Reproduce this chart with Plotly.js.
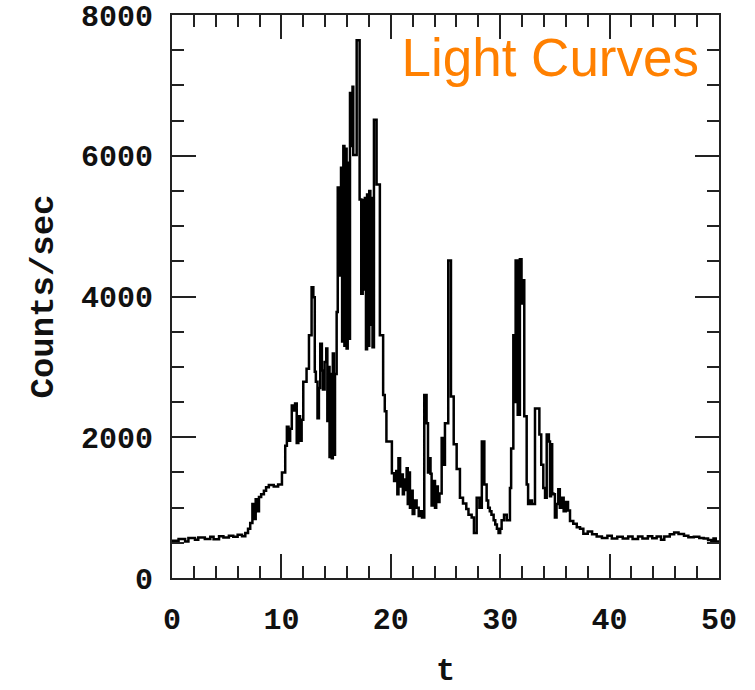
<!DOCTYPE html>
<html>
<head>
<meta charset="utf-8">
<script src="https://cdn.plot.ly/plotly-3.0.1.min.js"></script>
<style>
  html, body { margin: 0; padding: 0; background: #ffffff; }
  #chart { width: 755px; height: 690px; }
</style>
</head>
<body>
<div id="chart"></div>
<script>
// Burst light curve: count rate (counts/sec) against time t (s).
// Each segment holds bin start times and the rate in that bin.

// quiet background and slow rise, 0 - 11.5 s
const tRise = [0, 0.6, 1.2, 1.5, 2.1, 2.4, 3.0, 3.5, 3.8, 4.3, 4.7, 5.2, 5.6, 6.0, 6.4, 6.7,
  6.95, 7.15, 7.35, 7.5, 7.65, 7.8, 7.95, 8.15, 8.4, 8.6, 8.85, 9.3, 9.7, 10.05, 10.35,
  10.5, 10.65, 10.8, 10.95, 11.1, 11.25, 11.4];
const cRise = [530, 555, 520, 570, 545, 575, 555, 585, 550, 595, 575, 600, 585, 615, 595, 640,
  700, 780, 1050, 840, 1120, 950, 1150, 1190, 1240, 1290, 1320, 1300, 1330, 1500, 1880,
  2150, 1950, 2120, 2450, 2380, 2480, 1920];

// main emission episode, 11.5 - 20.3 s
const tMain = [11.55, 11.7, 11.85, 12.0, 12.3, 12.52, 12.76, 12.92, 13.05, 13.15, 13.3, 13.43,
  13.55, 13.7, 13.8, 13.95, 14.1, 14.2, 14.3, 14.4, 14.5, 14.6, 14.7, 14.8, 14.9, 15.05,
  15.15, 15.25, 15.35, 15.45, 15.55, 15.66, 15.76, 15.86, 15.96, 16.06, 16.16, 16.27, 16.4,
  16.5, 16.57, 16.88, 17.15, 17.3, 17.43, 17.53, 17.63, 17.73, 17.83, 17.93, 18.03, 18.13,
  18.23, 18.33, 18.46, 18.7, 19.0, 19.1, 19.3, 19.45, 19.6, 20.1, 20.3];
const cMain = [2300, 1950, 2250, 2790, 2975, 3450, 4130, 3990, 2930, 2790, 2270, 2700,
  3330, 2950, 2680, 3070, 3260, 2230, 3000, 1720, 2900, 1700, 3190, 1750, 2900, 3780,
  5550, 4300, 5100, 5830, 3360, 6140, 3300, 6100, 3260, 5900, 3400, 6890, 6140,
  6980, 6010, 7640, 5380, 4040, 5370, 4100, 5400, 3250, 5450, 3300, 5500, 3600,
  5400, 3280, 6510, 5590, 3450, 3450, 2600, 2370, 1940, 1490, 1380];

// intermediate pulses, 20.5 - 31.1 s
const tMid = [20.5, 20.6, 20.7, 20.85, 21.0, 21.1, 21.2, 21.3, 21.45, 21.55, 21.65, 21.75,
  21.9, 22.0, 22.15, 22.36, 22.55, 22.7, 22.85, 23.06, 23.27, 23.4, 23.52, 23.63, 23.73,
  23.85, 24.04, 24.15, 24.3, 24.45, 24.65, 24.8, 24.95, 25.25, 25.5, 25.75, 26.02, 26.32,
  26.6, 26.9, 27.1, 27.39, 27.6, 27.85, 28.1, 28.32, 28.55, 28.76, 28.9, 29.05, 29.2,
  29.4, 29.55, 29.7, 29.85, 30.0, 30.13, 30.35, 30.6, 30.89, 31.0];
const cMid = [1520, 1190, 1700, 1300, 1470, 1190, 1400, 1250, 1560, 1050, 1500, 1000,
  1240, 910, 1100, 1000, 880, 950, 860, 2600, 2200, 1500, 1700, 1480, 1030,
  1380, 1000, 1300, 1080, 1200, 1990, 1610, 2200, 4510, 2580, 1900, 1550, 1140,
  1060, 980, 900, 860, 640, 1140, 1000, 1940, 1330, 1100, 1000, 950, 900,
  820, 760, 700, 640, 700, 820, 900, 820, 1280, 1840];

// last pulses and decay to background, 31.2 - 50 s
const tLate = [31.2, 31.3, 31.41, 31.6, 31.8, 31.95, 32.05, 32.2, 32.42, 32.55, 32.72, 32.9,
  33.18, 33.58, 33.75, 33.94, 34.1, 34.25, 34.45, 34.55, 34.65, 34.75, 34.86, 35.0, 35.15,
  35.31, 35.45, 35.62, 35.8, 36.0, 36.2, 36.38, 36.68, 37.0, 37.3, 37.6, 38.0, 38.4, 38.82,
  39.3, 39.8, 40.2, 40.7, 41.2, 41.7, 42.1, 42.6, 43.0, 43.5, 43.9, 44.3, 44.7, 45.0,
  45.5, 45.9, 46.3, 46.8, 47.2, 47.7, 48.2, 48.6, 49.0, 49.3, 49.5, 49.7, 50.0];
const cLate = [3450, 2500, 4510, 2320, 4530, 3900, 4230, 2300, 1330, 1050, 1100, 1050,
  2410, 2040, 1610, 1280, 1140, 2040, 1940, 1160, 1900, 1200, 1190, 860, 1050,
  1260, 1000, 1140, 950, 1080, 960, 810, 770, 720, 700, 630, 660, 620, 590,
  570, 600, 560, 585, 560, 590, 555, 590, 560, 595, 565, 590, 545, 590,
  620, 645, 625, 600, 580, 585, 570, 560, 540, 500, 560, 520, 520];

const tAll = [].concat(tRise, tMain, tMid, tLate);
const cAll = [].concat(cRise, cMain, cMid, cLate);

const axisColor = '#222222';
const monoFamily = 'Liberation Mono, Courier New, monospace';
const monoFont = { family: monoFamily, size: 30, color: '#111111', weight: 'bold' };

const trace = {
  x: tAll,
  y: cAll,
  type: 'scatter',
  mode: 'lines',
  line: { color: '#000000', width: 2.5, shape: 'hv' },
  hoverinfo: 'x+y'
};

const layout = {
  width: 755,
  height: 690,
  margin: { l: 172, r: 36, t: 15, b: 112, pad: 0 },
  paper_bgcolor: '#ffffff',
  plot_bgcolor: '#ffffff',
  showlegend: false,
  title: {
    text: 'Light Curves',
    font: { family: 'Liberation Sans, Arial, sans-serif', size: 53, color: '#ff8000' },
    xref: 'container', yref: 'container',
    x: 699 / 755, xanchor: 'right',
    y: 1 - 57 / 690, yanchor: 'middle'
  },
  xaxis: {
    range: [0, 50],
    tick0: 0, dtick: 10,
    ticks: 'inside', ticklen: 24, tickwidth: 2, tickcolor: axisColor,
    minor: { dtick: 2, ticks: 'inside', ticklen: 12, tickwidth: 2, tickcolor: axisColor, showgrid: false },
    showline: true, linewidth: 2, linecolor: axisColor, mirror: 'ticks',
    showgrid: false, zeroline: false,
    tickfont: monoFont,
    ticklabelstandoff: 13,
    ticklabeloverflow: 'allow',
    title: { text: 't', font: { family: monoFamily, size: 32, color: '#111111', weight: 'bold' }, standoff: 34 }
  },
  yaxis: {
    range: [0, 8000],
    tick0: 0, dtick: 2000,
    ticks: 'inside', ticklen: 24, tickwidth: 2, tickcolor: axisColor,
    minor: { dtick: 500, ticks: 'inside', ticklen: 12, tickwidth: 2, tickcolor: axisColor, showgrid: false },
    showline: true, linewidth: 2, linecolor: axisColor, mirror: 'ticks',
    showgrid: false, zeroline: false,
    tickfont: monoFont,
    ticklabelstandoff: 11,
    ticklabeloverflow: 'allow',
    title: { text: 'Counts/sec', font: { family: monoFamily, size: 34, color: '#111111', weight: 'bold' }, standoff: 17 }
  }
};

Plotly.newPlot('chart', [trace], layout, { displayModeBar: false, staticPlot: true });
</script>
</body>
</html>
